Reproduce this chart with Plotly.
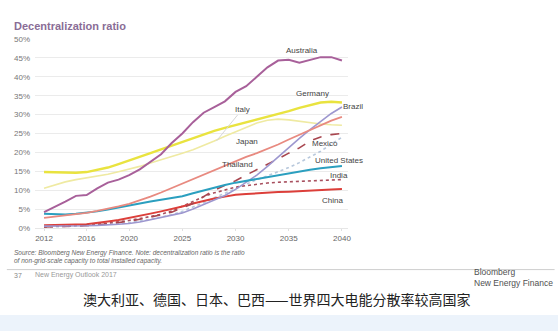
import plotly.graph_objects as go

years = list(range(2012, 2041))

australia = [4.2, 5.5, 7.0, 8.5, 8.7, 10.5, 12.0, 12.8, 14.0, 15.5, 17.5, 19.5, 22.5, 25.0, 28.0,
             30.5, 32.0, 33.5, 36.0, 37.5, 40.0, 42.5, 44.3, 44.5, 43.7, 44.5, 45.2, 45.2, 44.3]
germany = [14.8, 14.7, 14.6, 14.6, 14.8, 15.3, 16.0, 16.9, 17.8, 18.8, 19.8, 20.8, 21.8, 22.8, 23.8,
           24.8, 25.7, 26.5, 27.2, 27.9, 28.6, 29.3, 30.0, 30.9, 31.8, 32.6, 33.2, 33.4, 33.2]
italy = [10.5, 11.4, 12.2, 12.8, 13.2, 13.6, 14.2, 14.9, 15.5, 16.3, 17.2, 18.0, 18.9, 19.8, 20.7,
         21.8, 23.0, 24.3, 25.5, 26.7, 27.8, 28.5, 28.8, 28.6, 28.2, 27.8, 27.5, 27.3, 27.2]
japan = [2.7, 3.0, 3.3, 3.6, 4.0, 4.5, 5.0, 5.7, 6.4, 7.3, 8.3, 9.4, 10.6, 11.8, 13.0,
         14.2, 15.4, 16.6, 17.8, 18.8, 19.8, 20.9, 22.1, 23.4, 24.7, 25.9, 27.2, 28.4, 29.4]
brazil = [0.5, 0.5, 0.5, 0.5, 0.6, 0.7, 0.8, 1.0, 1.2, 1.6, 2.2, 2.8, 3.4, 4.0, 5.0,
          6.2, 7.5, 8.6, 10.2, 12.0, 14.0, 16.3, 18.8, 21.3, 23.7, 26.0, 28.2, 30.3, 32.0]
mexico = [0.3, 0.3, 0.4, 0.5, 0.6, 0.8, 1.1, 1.4, 1.8, 2.3, 2.8, 3.5, 4.2, 5.3, 6.5,
          8.3, 10.0, 11.3, 12.5, 14.0, 15.4, 16.7, 18.3, 19.8, 21.2, 23.0, 24.1, 24.7, 25.0]
thailand = [0.3, 0.3, 0.4, 0.5, 0.6, 0.7, 0.9, 1.1, 1.4, 1.8, 2.3, 2.9, 3.5, 4.4, 5.5,
            6.7, 8.0, 9.2, 10.5, 11.7, 12.8, 13.8, 14.8, 16.0, 17.3, 18.8, 20.3, 22.2, 24.0]
united_states = [3.8, 3.6, 3.6, 3.8, 4.0, 4.4, 4.9, 5.5, 6.0, 6.5, 7.0, 7.5, 7.9, 8.4, 9.2,
                 10.0, 10.7, 11.4, 12.0, 12.5, 13.0, 13.5, 14.0, 14.5, 15.0, 15.4, 15.8, 16.1, 16.4]
india = [0.3, 0.4, 0.5, 0.6, 0.8, 1.0, 1.3, 1.6, 2.0, 2.5, 3.0, 3.6, 4.5, 5.8, 7.2,
         8.3, 9.3, 10.1, 10.8, 11.2, 11.6, 11.9, 12.1, 12.2, 12.3, 12.4, 12.5, 12.7, 12.8]
china = [0.7, 0.7, 0.8, 0.9, 1.0, 1.3, 1.7, 2.1, 2.6, 3.2, 3.8, 4.4, 5.0, 5.7, 6.5,
         7.2, 7.8, 8.3, 8.8, 9.0, 9.2, 9.4, 9.5, 9.6, 9.8, 9.9, 10.1, 10.2, 10.3]

x_ticks = [2012, 2016, 2020, 2025, 2030, 2035, 2040]
y_ticks = [0, 5, 10, 15, 20, 25, 30, 35, 40, 45, 50]

series = [
    ("Italy", italy, "#efeaa2", 1.6, "solid"),
    ("Thailand", thailand, "#b8c8dc", 1.6, "dot"),
    ("India", india, "#a8505f", 1.6, "dot"),
    ("China", china, "#dc3f3a", 2.0, "solid"),
    ("Mexico", mexico, "#a8464f", 1.6, "dash"),
    ("Brazil", brazil, "#9d97cf", 1.6, "solid"),
    ("United States", united_states, "#2b9fbf", 2.0, "solid"),
    ("Japan", japan, "#e88a80", 1.8, "solid"),
    ("Germany", germany, "#e9e33f", 2.4, "solid"),
    ("Australia", australia, "#a8609a", 2.0, "solid"),
]

fig = go.Figure()
for name, vals, color, w, dash in series:
    fig.add_trace(go.Scatter(x=years, y=vals, name=name, mode="lines",
                             line=dict(color=color, width=w, dash=dash),
                             cliponaxis=False, showlegend=False))

lab_font = dict(family="Liberation Sans, Arial, sans-serif", size=8, color="#444444")
labels = [
    ("Australia", 2036.2, 47.0, "center"),
    ("Germany", 2037.2, 35.6, "center"),
    ("Brazil", 2039.9, 32.2, "left"),
    ("Japan", 2031.1, 22.8, "center"),
    ("Thailand", 2030.2, 16.8, "center"),
    ("Mexico", 2038.4, 22.4, "center"),
    ("United States", 2037.3, 17.8, "left"),
    ("India", 2039.7, 13.8, "center"),
    ("China", 2039.1, 7.2, "center"),
]
for t, xx, yy, anc in labels:
    fig.add_annotation(x=xx, y=yy, text=t, showarrow=False, xanchor=anc,
                       yanchor="middle", font=lab_font)

# Italy label with leader line
fig.add_annotation(x=2028.2, y=23.0, text="Italy", showarrow=True, arrowhead=0,
                   arrowwidth=1, arrowcolor="#d6d6d6", ax=26, ay=-32, font=lab_font)

fig.add_annotation(xref="paper", yref="paper", x=-0.073, y=1.07,
                   xanchor="left", yanchor="middle", showarrow=False,
                   text="<b>Decentralization ratio</b>",
                   font=dict(family="Liberation Sans, Arial, sans-serif", size=11, color="#8a6d96"))

fig.add_annotation(xref="paper", yref="paper", x=-0.073, y=-0.13, xanchor="left", yanchor="middle",
                   showarrow=False,
                   text="<i>Source: Bloomberg New Energy Finance. Note: decentralization ratio is the ratio</i>",
                   font=dict(family="Liberation Sans, Arial, sans-serif", size=6.5, color="#666666"))
fig.add_annotation(xref="paper", yref="paper", x=-0.073, y=-0.177, xanchor="left", yanchor="middle",
                   showarrow=False,
                   text="<i>of non-grid-scale capacity to total installed capacity.</i>",
                   font=dict(family="Liberation Sans, Arial, sans-serif", size=6.5, color="#666666"))

fig.add_shape(type="line", xref="paper", yref="paper", x0=-0.09, x1=1.66, y0=-0.22, y1=-0.22,
              line=dict(color="#cfcfcf", width=1))

fig.add_annotation(xref="paper", yref="paper", x=-0.073, y=-0.25, xanchor="left", yanchor="middle",
                   showarrow=False, text="37",
                   font=dict(family="Liberation Sans, Arial, sans-serif", size=7, color="#888888"))
fig.add_annotation(xref="paper", yref="paper", x=-0.006, y=-0.25, xanchor="left", yanchor="middle",
                   showarrow=False, text="New Energy Outlook 2017",
                   font=dict(family="Liberation Sans, Arial, sans-serif", size=7, color="#999999"))
fig.add_annotation(xref="paper", yref="paper", x=1.662, y=-0.26, xanchor="right", yanchor="middle",
                   showarrow=False, align="left",
                   text="Bloomberg<br>New Energy Finance",
                   font=dict(family="Liberation Sans, Arial, sans-serif", size=8.5, color="#505050"))

fig.add_annotation(xref="paper", yref="paper", x=0.77, y=-0.378, xanchor="center", yanchor="middle",
                   showarrow=False, text="澳大利亚、德国、日本、巴西——世界四大电能分散率较高国家",
                   font=dict(family="Noto Sans CJK SC", size=14, color="#222222"))

fig.add_shape(type="rect", xref="paper", yref="paper", x0=-0.2, x1=1.8, y0=-0.72, y1=-0.46,
              line=dict(width=0), fillcolor="#ecf3fb", layer="below")

fig.update_layout(
    width=558, height=331,
    margin=dict(l=35, r=210, t=39, b=103),
    paper_bgcolor="white", plot_bgcolor="white",
    font=dict(family="Liberation Sans, Arial, sans-serif"),
    xaxis=dict(range=[2011.15, 2040.57], tickvals=x_ticks, ticktext=[str(v) for v in x_ticks],
               showgrid=False, zeroline=False, showline=True, linecolor="#e6e6e6",
               ticks="outside", ticklen=2, tickcolor="#e0e0e0",
               tickfont=dict(size=8, color="#666666")),
    yaxis=dict(range=[0, 50], tickvals=y_ticks, ticktext=[f"{v}%" for v in y_ticks],
               showgrid=True, gridcolor="#ebebeb", gridwidth=1, zeroline=False,
               tickfont=dict(size=8, color="#777777"), ticklabelstandoff=4),
)

fig.write_html("out.html")
